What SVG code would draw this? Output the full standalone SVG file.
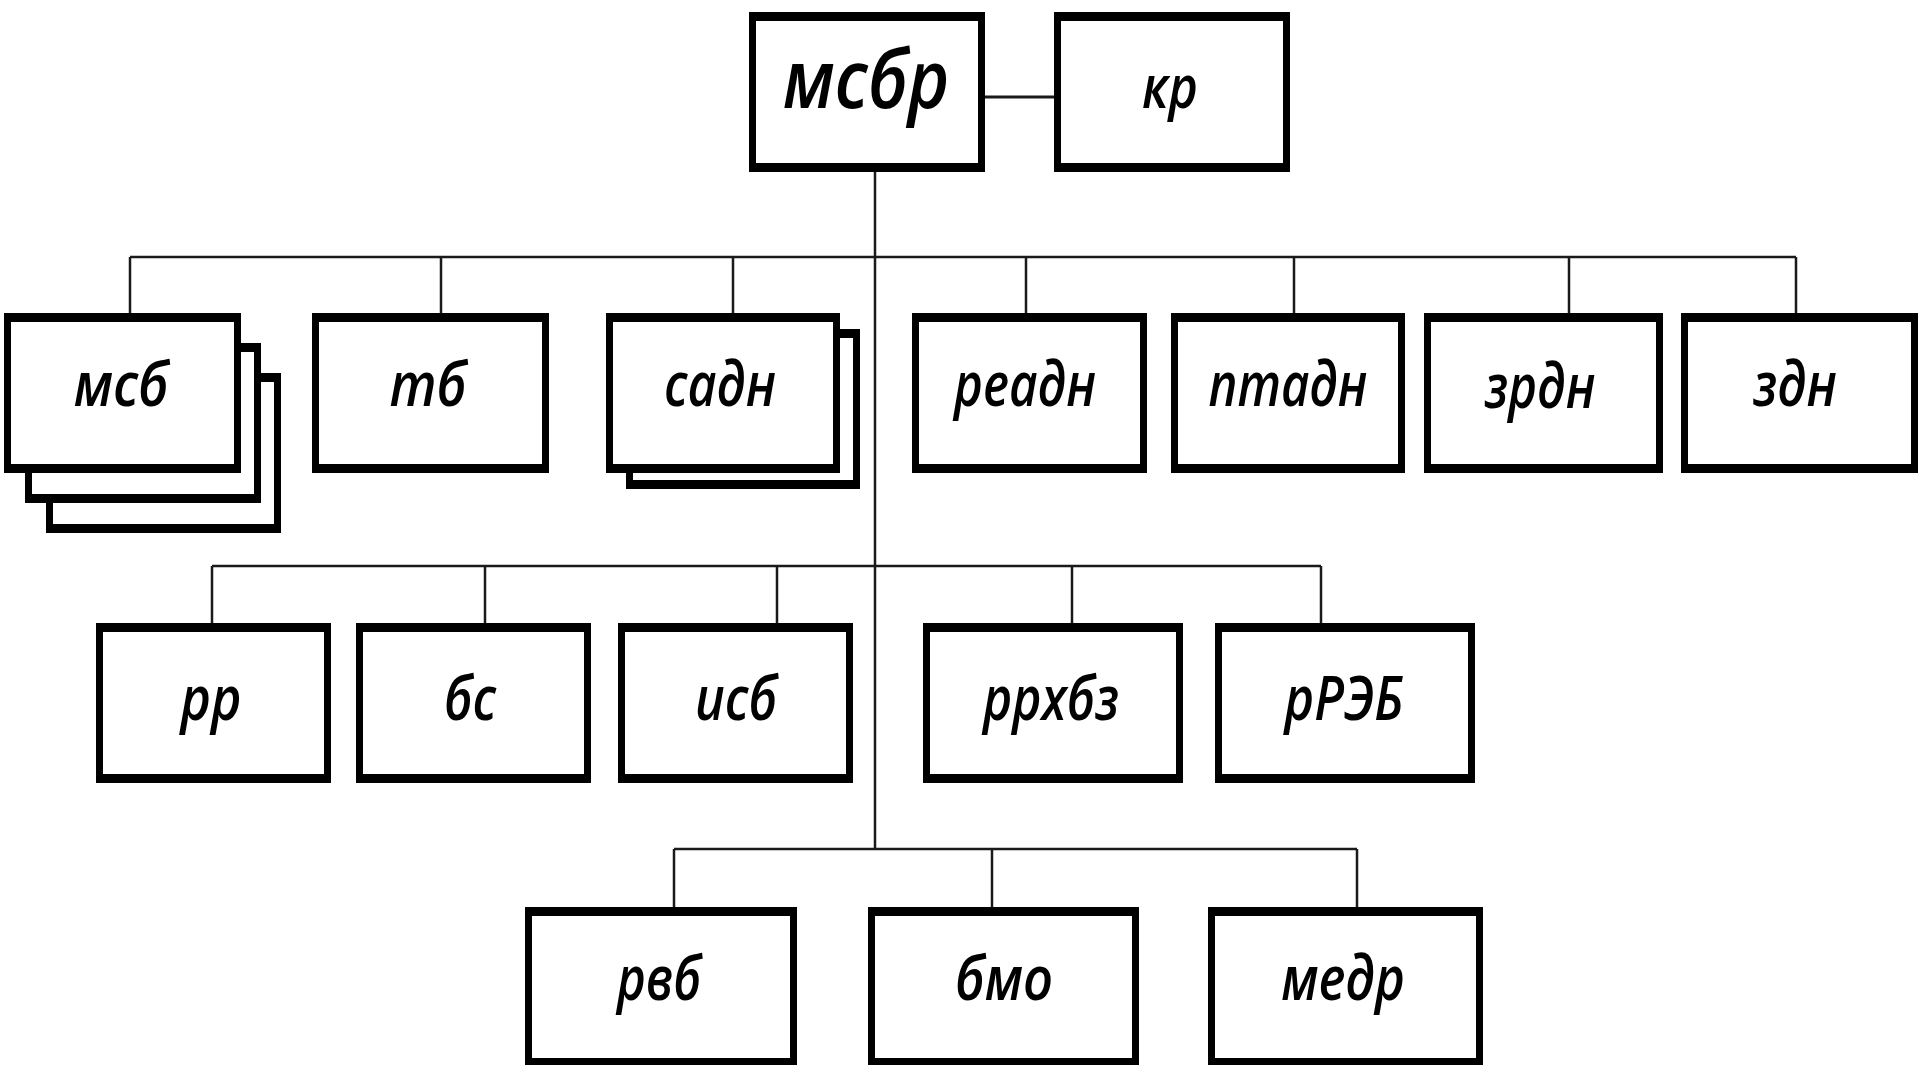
<svg xmlns="http://www.w3.org/2000/svg" width="1920" height="1065" viewBox="0 0 1920 1065">
<style>
.frame{fill:#000}
.inner{fill:#fff}
.lbl{font-family:"Open Sans","Noto Sans",sans-serif;font-style:italic;font-weight:600;font-size:62px;fill:#000;text-anchor:middle}
.conn{stroke:#1a1a1a;stroke-width:2.5;fill:none}
</style>
<rect x="0" y="0" width="1920" height="1065" fill="#fff"/>
<g id="connectors">
<path class="conn" d="M985 97H1054" style="stroke-width:3"/>
<path class="conn" d="M875 172V849"/>
<path class="conn" d="M130 257H1796M130 257V313M441 257V313M733 257V313M1026 257V313M1294 257V313M1569 257V313M1796 257V313"/>
<path class="conn" d="M212 566H1321M212 566V623M485 566V623M777 566V623M1072 566V623M1321 566V623"/>
<path class="conn" d="M674 849H1357M674 849V907M992 849V907M1357 849V907"/>
</g>
<g id="node-msbr">
<rect class="frame" x="749" y="12" width="236" height="160"/><rect class="inner" x="756" y="21" width="222" height="142"/>
<text class="lbl" x="866" y="108" style="font-size:82px" textLength="167" lengthAdjust="spacingAndGlyphs">мсбр</text>
</g>
<g id="node-kr">
<rect class="frame" x="1054" y="12" width="236" height="160"/><rect class="inner" x="1061" y="21" width="222" height="142"/>
<text class="lbl" x="1170" y="108" style="font-size:60px" textLength="56" lengthAdjust="spacingAndGlyphs">кр</text>
</g>
<g id="node-msb">
<rect class="frame" x="46" y="373" width="235" height="160"/><rect class="inner" x="53" y="382" width="221" height="142"/>
<rect class="frame" x="25" y="343" width="236" height="160"/><rect class="inner" x="32" y="352" width="222" height="142"/>
<rect class="frame" x="4" y="313" width="237" height="160"/><rect class="inner" x="11" y="322" width="223" height="142"/>
<text class="lbl" x="121" y="406" textLength="95" lengthAdjust="spacingAndGlyphs">мсб</text>
</g>
<g id="node-tb">
<rect class="frame" x="312" y="313" width="237" height="160"/><rect class="inner" x="319" y="322" width="223" height="142"/>
<text class="lbl" x="428" y="406" textLength="77" lengthAdjust="spacingAndGlyphs">тб</text>
</g>
<g id="node-sadn">
<rect class="frame" x="626" y="329" width="234" height="160"/><rect class="inner" x="633" y="338" width="220" height="142"/>
<rect class="frame" x="606" y="313" width="234" height="160"/><rect class="inner" x="613" y="322" width="220" height="142"/>
<text class="lbl" x="720" y="406" textLength="112" lengthAdjust="spacingAndGlyphs">садн</text>
</g>
<g id="node-readn">
<rect class="frame" x="912" y="313" width="235" height="160"/><rect class="inner" x="919" y="322" width="221" height="142"/>
<text class="lbl" x="1025" y="406" textLength="142" lengthAdjust="spacingAndGlyphs">реадн</text>
</g>
<g id="node-ptadn">
<rect class="frame" x="1171" y="313" width="234" height="160"/><rect class="inner" x="1178" y="322" width="220" height="142"/>
<text class="lbl" x="1288" y="406" textLength="159" lengthAdjust="spacingAndGlyphs">птадн</text>
</g>
<g id="node-zrdn">
<rect class="frame" x="1424" y="313" width="239" height="160"/><rect class="inner" x="1431" y="322" width="225" height="142"/>
<text class="lbl" x="1540" y="408" textLength="111" lengthAdjust="spacingAndGlyphs">зрдн</text>
</g>
<g id="node-zdn">
<rect class="frame" x="1681" y="313" width="237" height="160"/><rect class="inner" x="1688" y="322" width="223" height="142"/>
<text class="lbl" x="1795" y="406" textLength="84" lengthAdjust="spacingAndGlyphs">здн</text>
</g>
<g id="node-rr">
<rect class="frame" x="96" y="623" width="235" height="160"/><rect class="inner" x="103" y="632" width="221" height="142"/>
<text class="lbl" x="211" y="720" textLength="61" lengthAdjust="spacingAndGlyphs">рр</text>
</g>
<g id="node-bs">
<rect class="frame" x="356" y="623" width="235" height="160"/><rect class="inner" x="363" y="632" width="221" height="142"/>
<text class="lbl" x="470" y="720" textLength="52" lengthAdjust="spacingAndGlyphs">бс</text>
</g>
<g id="node-isb">
<rect class="frame" x="618" y="623" width="235" height="160"/><rect class="inner" x="625" y="632" width="221" height="142"/>
<text class="lbl" x="736" y="720" textLength="82" lengthAdjust="spacingAndGlyphs">исб</text>
</g>
<g id="node-rrhbz">
<rect class="frame" x="923" y="623" width="260" height="160"/><rect class="inner" x="930" y="632" width="246" height="142"/>
<text class="lbl" x="1051" y="720" textLength="136" lengthAdjust="spacingAndGlyphs">ррхбз</text>
</g>
<g id="node-rreb">
<rect class="frame" x="1215" y="623" width="260" height="160"/><rect class="inner" x="1222" y="632" width="246" height="142"/>
<text class="lbl" x="1344" y="720" textLength="119" lengthAdjust="spacingAndGlyphs">рРЭБ</text>
</g>
<g id="node-rvb">
<rect class="frame" x="525" y="907" width="272" height="161"/><rect class="inner" x="532" y="916" width="258" height="142"/>
<text class="lbl" x="659" y="1000" textLength="84" lengthAdjust="spacingAndGlyphs">рвб</text>
</g>
<g id="node-bmo">
<rect class="frame" x="868" y="907" width="271" height="161"/><rect class="inner" x="875" y="916" width="257" height="142"/>
<text class="lbl" x="1004" y="1000" textLength="98" lengthAdjust="spacingAndGlyphs">бмо</text>
</g>
<g id="node-medr">
<rect class="frame" x="1208" y="907" width="275" height="161"/><rect class="inner" x="1215" y="916" width="261" height="142"/>
<text class="lbl" x="1343" y="1000" textLength="124" lengthAdjust="spacingAndGlyphs">медр</text>
</g>
</svg>
